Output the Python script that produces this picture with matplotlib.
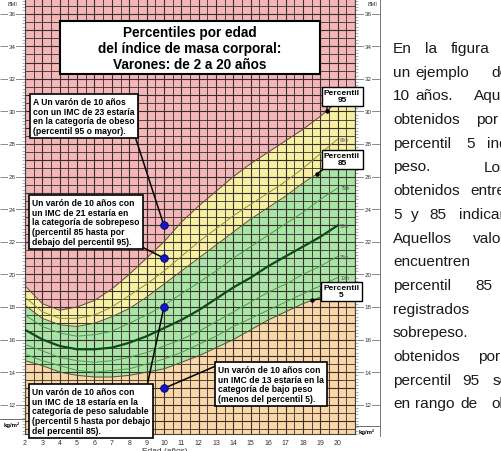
import numpy as np
import matplotlib
matplotlib.use('Agg')
import matplotlib.pyplot as plt
import matplotlib.transforms as mtransforms
from matplotlib.patches import Rectangle
from matplotlib.lines import Line2D
from matplotlib.ticker import MultipleLocator

plt.rcParams['font.family'] = ['Liberation Sans', 'DejaVu Sans']

# BMI-for-age percentiles, boys 2-20 years
ages = list(range(2, 21))
p5 = [14.7, 14.4, 14.0, 13.8, 13.7, 13.7, 13.8, 14.0, 14.2, 14.6, 15.0, 15.5, 16.0, 16.6, 17.2, 17.7, 18.2, 18.6, 19.0]
p10 = [15.1, 14.7, 14.4, 14.1, 14.0, 14.1, 14.2, 14.5, 14.8, 15.2, 15.7, 16.2, 16.8, 17.3, 17.8, 18.3, 18.8, 19.3, 19.8]
p25 = [15.7, 15.3, 14.9, 14.7, 14.6, 14.7, 14.9, 15.2, 15.6, 16.0, 16.5, 17.1, 17.7, 18.3, 18.9, 19.4, 20.0, 20.5, 21.1]
p50 = [16.6, 16.0, 15.6, 15.4, 15.4, 15.5, 15.8, 16.2, 16.7, 17.2, 17.8, 18.5, 19.2, 19.8, 20.5, 21.1, 21.7, 22.3, 23.0]
p75 = [17.5, 16.8, 16.4, 16.2, 16.3, 16.5, 17.0, 17.5, 18.1, 18.8, 19.5, 20.2, 21.0, 21.7, 22.4, 23.1, 23.8, 24.6, 25.3]
p85 = [18.1, 17.3, 16.9, 16.8, 17.0, 17.4, 17.9, 18.6, 19.4, 20.2, 21.0, 21.8, 22.6, 23.4, 24.1, 24.8, 25.6, 26.3, 27.0]
p90 = [18.6, 17.7, 17.3, 17.3, 17.5, 18.0, 18.7, 19.4, 20.2, 21.1, 22.0, 22.8, 23.6, 24.3, 25.0, 25.7, 26.5, 27.4, 28.3]
p95 = [19.3, 18.2, 17.8, 18.0, 18.4, 19.1, 20.0, 21.0, 22.0, 23.2, 24.2, 25.1, 26.0, 26.8, 27.5, 28.2, 28.9, 29.7, 30.6]

# example boy, 10 years old
dot_age = [10, 10, 10, 10]
dot_bmi = [23, 21, 18, 13]

y_ticks = list(range(12, 37, 2))
x_ticks = list(range(2, 21))

title = "Percentiles por edad\ndel índice de masa corporal:\nVarones: de 2 a 20 años"
note_obeso = ("A Un varón de 10 años\ncon un IMC de 23 estaría\n"
              "en la categoría de obeso\n(percentil 95 o mayor).")
note_sobre = ("Un varón de 10 años con\nun IMC de 21 estaría en\n"
              "la categoría de sobrepeso\n(percentil 85 hasta por\ndebajo del percentil 95).")
note_salud = ("Un varón de 10 años con\nun IMC de 18 estaría en la\n"
              "categoría de peso saludable\n(percentil 5 hasta por debajo\ndel percentil 85).")
note_bajo = ("Un varón de 10 años con\nun IMC de 13 estaría en la\n"
             "categoría de bajo peso\n(menos del percentil 5).")

# visible part of the justified paragraph on the right (word, left px)
para = [
    [("En", 393), ("la", 425), ("figura", 451)],
    [("un", 393), ("ejemplo", 415), ("de", 491)],
    [("10", 393), ("años.", 415), ("Aquí", 474)],
    [("obtenidos", 393), ("por", 476)],
    [("percentil", 393), ("5", 466), ("indican", 487)],
    [("peso.", 393), ("Los", 484)],
    [("obtenidos", 393), ("entre", 470)],
    [("5", 393), ("y", 411), ("85", 429), ("indican", 459)],
    [("Aquellos", 393), ("valores", 473)],
    [("encuentren", 393)],
    [("percentil", 393), ("85", 475)],
    [("registrados", 393)],
    [("sobrepeso.", 393)],
    [("obtenidos", 393), ("por", 478)],
    [("percentil", 393), ("95", 462), ("se", 493)],
    [("en", 393), ("rango", 415), ("de", 460), ("obesidad", 491)],
]

W, H = 501, 452
fig = plt.figure(figsize=(W / 100, H / 100), dpi=100)


def fx(x):
    return x / W


def fy(y):
    return 1 - y / H


ax = fig.add_axes([fx(25), (H - 435) / H, 330 / W, 435 / H])
ax.set_xlim(2, 21)
ax.set_ylim(10.2, 36.9)

# colour bands
ax.set_facecolor('#F3B7B9')
xf = ages + [21]
ext = lambda v: v + [v[-1]]
ax.fill_between(xf, 10.2, ext(p5), color='#F9D7A7', lw=0, zorder=1)
ax.fill_between(xf, ext(p5), ext(p85), color='#A8E5A6', lw=0, zorder=1)
ax.fill_between(xf, ext(p85), ext(p95), color='#F6F1A2', lw=0, zorder=1)

# grid
for v in np.arange(2, 21.01, 0.5):
    ax.axvline(v, color='#3a2d2d', lw=0.8 if v % 1 == 0 else 0.6, zorder=2)
for v in np.arange(10.5, 36.91, 0.5):
    ax.axhline(v, color='#3a2d2d', lw=0.8 if v % 1 == 0 else 0.6, zorder=2)

# percentile curves
for vals, c in [(p5, '#55552f'), (p10, '#4f9a4f'), (p25, '#4f9a4f'), (p75, '#4f9a4f'),
                (p85, '#55552f'), (p90, '#8f8f3a'), (p95, '#6a4a3a')]:
    ax.plot(ages, vals, color=c, lw=0.7, zorder=3)
ax.plot(ages, p50, color='#0f4a1c', lw=1.6, zorder=3)

for vals, lab in [(p10, '10th'), (p25, '25th'), (p50, '50th'), (p75, '75th'), (p90, '90th')]:
    ax.text(20.15, vals[-1], lab, fontsize=3.3, color='#555555', va='center', ha='left', zorder=4)

# axes
ax.set_xticks(x_ticks)
ax.set_xticklabels([str(v) for v in x_ticks], fontsize=5, color='#333333')
ax.tick_params(axis='x', length=0, pad=3.5)
ax.set_yticks(y_ticks)
ax.yaxis.set_minor_locator(MultipleLocator(0.2))
ax.tick_params(axis='y', which='major', left=True, right=True, length=18, width=0.6,
               color='#777777', labelleft=False)
ax.tick_params(axis='y', which='minor', left=True, right=True, length=2.2, width=0.4,
               color='#777777')
for s in ['left', 'right', 'bottom']:
    ax.spines[s].set_color('#444444')
    ax.spines[s].set_linewidth(0.8)
ax.spines['top'].set_visible(False)

tr = mtransforms.blended_transform_factory(fig.transFigure, ax.transData)
for v in y_ticks:
    for xpos in (12, 368):
        ax.text(fx(xpos), v, str(v), transform=tr, fontsize=4.5, color='#333333',
                ha='center', va='center', clip_on=False,
                bbox=dict(boxstyle='square,pad=0.15', fc='white', ec='none'))

fig.text(fx(12), fy(5), 'BMI', fontsize=4, ha='center', va='center', color='#333333')
fig.text(fx(372), fy(5), 'BMI', fontsize=4, ha='center', va='center', color='#333333')
fig.text(fx(12), fy(425), 'kg/m²', fontsize=4.3, ha='center', va='center', weight='bold')
fig.text(fx(367), fy(432), 'kg/m²', fontsize=4.3, ha='center', va='center', weight='bold')
fig.text(fx(165), fy(448), 'Edad (años)', fontsize=6, ha='center', va='top', color='#333333')

fig.add_artist(Line2D([fx(0), fx(25)], [fy(420), fy(420)], color='#555555', lw=0.6))
fig.add_artist(Line2D([fx(355), fx(380)], [fy(427), fy(427)], color='#555555', lw=0.6))
fig.add_artist(Line2D([fx(380), fx(380)], [fy(0), fy(437)], color='#777777', lw=0.7))

# title box
fig.add_artist(Rectangle((fx(60), fy(75)), 260 / W, 53 / H, transform=fig.transFigure,
                         fc='white', ec='black', lw=1.5, zorder=5))
fig.text(fx(190), fy(49), title, fontsize=9.8, weight='bold', ha='center', va='center',
         linespacing=1.15, zorder=6)

# example dots with notes
box = dict(boxstyle='square,pad=0.35', fc='white', ec='black', lw=1.2)
notes = [(note_obeso, 0, (33, 98), (1, 0)),
         (note_sobre, 1, (32, 199), (1, 0)),
         (note_salud, 2, (32, 388), (0.97, 1)),
         (note_bajo, 3, (218, 366), (0, 1))]
for txt, i, (px, py), rp in notes:
    ax.annotate(txt, xy=(dot_age[i], dot_bmi[i]), xycoords='data',
                xytext=(px, H - py), textcoords='figure pixels',
                ha='left', va='top', fontsize=6.2, weight='bold', linespacing=1.1,
                bbox=box, zorder=7,
                arrowprops=dict(arrowstyle='-', lw=1.1, color='black', relpos=rp,
                                shrinkA=0, shrinkB=0))
ax.scatter(dot_age, dot_bmi, s=30, c='#1414cc', edgecolors='#00005a', linewidths=0.6, zorder=8)

# percentile call-outs
for lab, vals, a, (cx, cy) in [('95', p95, 19.37, (342, 97)),
                               ('85', p85, 18.8, (342, 160)),
                               ('5', p5, 18.5, (341, 292))]:
    yv = np.interp(a, ages, vals)
    ax.annotate('Percentil\n' + lab, xy=(a, yv), xycoords='data',
                xytext=(cx, H - cy), textcoords='figure pixels',
                ha='center', va='center', fontsize=6, weight='bold', linespacing=1.0,
                bbox=dict(boxstyle='square,pad=0.3', fc='white', ec='black', lw=1.0),
                zorder=7, annotation_clip=False,
                arrowprops=dict(arrowstyle='-', lw=0.9, color='black', relpos=(0.1, 0),
                                shrinkA=0, shrinkB=0))
    ax.plot([a], [yv], 'o', ms=2.2, color='black', zorder=8)

# paragraph text
for i, words in enumerate(para):
    yy = 49 + 23.7 * i
    for w, xx in words:
        fig.text(fx(xx), fy(yy), w, fontsize=11.1, color='#1a1a1a', ha='left', va='center')

fig.savefig('out.png', dpi=100)
